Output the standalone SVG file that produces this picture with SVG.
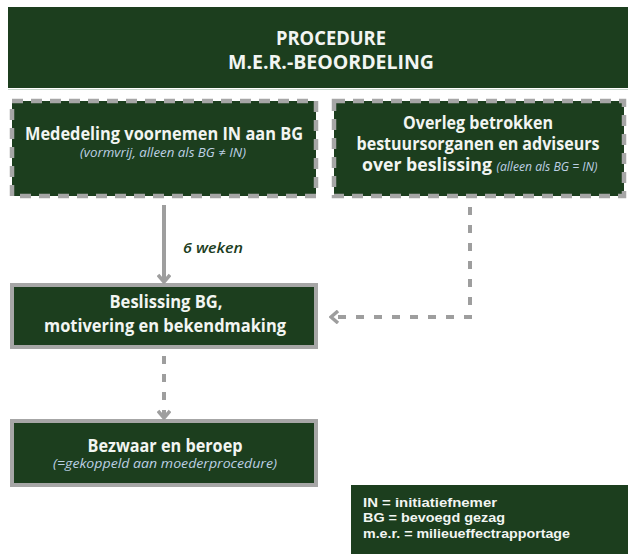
<svg xmlns="http://www.w3.org/2000/svg" width="628" height="554" viewBox="0 0 628 554">
  <style>
    .box { fill: #1c3e1e; }
    .dash { fill: #1c3e1e; stroke: #a6a6a6; stroke-width: 4.5; stroke-dasharray: 11 8; }
    .solid { fill: #1c3e1e; stroke: #a6a6a6; stroke-width: 4; }
    .t { font-family: "Open Sans", "Liberation Sans", sans-serif; font-weight: 700; fill: #f2f5f2; text-anchor: middle; }
    .s { font-family: "Open Sans", "Liberation Sans", sans-serif; font-style: italic; font-weight: 400; fill: #bcd0e4; text-anchor: middle; }
    .leg { font-family: "Liberation Sans", Arial, sans-serif; font-weight: 700; fill: #f2f5f2; font-size: 13px; }
    .conn { fill: none; stroke: #9e9e9e; stroke-width: 4; }
    .dashed { stroke-dasharray: 8 10; }
    .lbl { font-family: "Open Sans", "Liberation Sans", sans-serif; font-style: italic; font-weight: 600; fill: #1c3e1e; font-size: 14px; }
  </style>
  <defs>
    <marker id="chev" viewBox="0 0 12 14" refX="10" refY="7" markerWidth="12" markerHeight="14" markerUnits="userSpaceOnUse" orient="auto">
      <path d="M3,1 L10,7 L3,13" fill="none" stroke="#9e9e9e" stroke-width="3.5"/>
    </marker>
  </defs>

  <g id="header">
    <rect class="box" x="8" y="7" width="620" height="81"/>
    <line x1="8" y1="89.5" x2="628" y2="89.5" stroke="#c9d6cd" stroke-width="1"/>
    <text class="t" x="331" y="45" font-size="19" textLength="110" lengthAdjust="spacingAndGlyphs">PROCEDURE</text>
    <text class="t" x="331" y="69" font-size="19" textLength="206" lengthAdjust="spacingAndGlyphs">M.E.R.-BEOORDELING</text>
  </g>

  <g id="mededeling">
    <rect class="dash" x="12" y="101" width="304" height="95"/>
    <text class="t" x="164" y="140" font-size="17" textLength="278" lengthAdjust="spacingAndGlyphs">Mededeling voornemen IN aan BG</text>
    <text class="s" x="163" y="157" font-size="12.5" textLength="166" lengthAdjust="spacingAndGlyphs">(vormvrij, alleen als BG ≠ IN)</text>
  </g>

  <g id="overleg">
    <rect class="dash" x="334" y="101" width="290" height="95"/>
    <text class="t" x="478" y="129" font-size="17" textLength="150" lengthAdjust="spacingAndGlyphs">Overleg betrokken</text>
    <text class="t" x="478" y="150" font-size="17" textLength="243" lengthAdjust="spacingAndGlyphs">bestuursorganen en adviseurs</text>
    <text class="t" x="427" y="171" font-size="17" textLength="130" lengthAdjust="spacingAndGlyphs">over beslissing</text>
    <text class="s" x="547" y="171" font-size="12.5" textLength="101" lengthAdjust="spacingAndGlyphs">(alleen als BG = IN)</text>
  </g>

  <g id="beslissing">
    <rect class="solid" x="12" y="285" width="304" height="62"/>
    <text class="t" x="166" y="308" font-size="17" textLength="113" lengthAdjust="spacingAndGlyphs">Beslissing BG,</text>
    <text class="t" x="165" y="332" font-size="17" textLength="242" lengthAdjust="spacingAndGlyphs">motivering en bekendmaking</text>
  </g>

  <g id="bezwaar">
    <rect class="solid" x="12" y="421" width="304" height="64"/>
    <text class="t" x="165" y="452" font-size="17" textLength="155" lengthAdjust="spacingAndGlyphs">Bezwaar en beroep</text>
    <text class="s" x="165" y="468" font-size="12.5" textLength="224" lengthAdjust="spacingAndGlyphs">(=gekoppeld aan moederprocedure)</text>
  </g>

  <g id="legenda">
    <rect class="box" x="351" y="485" width="277" height="69"/>
    <text class="leg" x="363" y="507" textLength="134" lengthAdjust="spacingAndGlyphs">IN = initiatiefnemer</text>
    <text class="leg" x="363" y="522" textLength="142" lengthAdjust="spacingAndGlyphs">BG = bevoegd gezag</text>
    <text class="leg" x="363" y="538" textLength="207" lengthAdjust="spacingAndGlyphs">m.e.r. = milieueffectrapportage</text>
  </g>

  <g id="connectors">
    <path class="conn" d="M164,205 L164,282" marker-end="url(#chev)"/>
    <text class="lbl" x="183" y="253" textLength="60" lengthAdjust="spacingAndGlyphs">6 weken</text>
    <path class="conn dashed" d="M470,207 L470,317 L331,317" marker-end="url(#chev)"/>
    <path class="conn dashed" d="M164,356 L164,418" marker-end="url(#chev)"/>
  </g>
</svg>
